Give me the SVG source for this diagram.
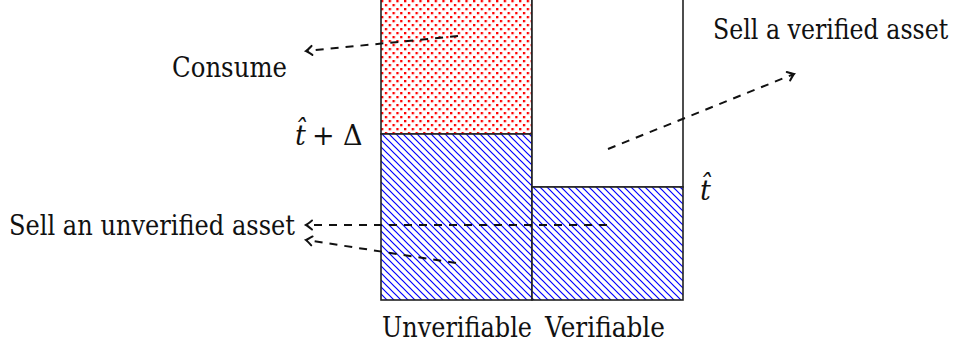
<svg xmlns="http://www.w3.org/2000/svg" width="957" height="352" viewBox="0 0 957 352">
<style>
text{font-family:"DejaVu Serif","Liberation Serif",serif;font-size:27px;fill:#111}
.box{stroke:#222;stroke-width:1.6}
.conn{fill:none;stroke:#111;stroke-width:2;stroke-dasharray:8 7}
</style>
<defs>
<pattern id="dots" patternUnits="userSpaceOnUse" x="381" y="0" width="7.67" height="8">
<rect width="7.67" height="8" fill="#fff"/>
<rect x="0" y="0" width="2.3" height="2.3" fill="#f00"/>
<rect x="3.83" y="4" width="2.3" height="2.3" fill="#f00"/>
</pattern>
<pattern id="hatch" patternUnits="userSpaceOnUse" x="381" y="0" width="7" height="7">
<rect width="7" height="7" fill="#fff"/>
<path d="M0,0 L7,7 M-1,6 L1,8 M6,-1 L8,1" stroke="#00f" stroke-width="1.2"/>
</pattern>
<marker id="arr" markerUnits="userSpaceOnUse" markerWidth="14" markerHeight="14" viewBox="-10 -7 14 14" refX="0" refY="0" orient="auto">
<path d="M-6,-4.5 Q-1.5,-0.8 0,0 Q-1.5,0.8 -6,4.5" fill="none" stroke="#111" stroke-width="2" stroke-linecap="round"/>
</marker>
</defs>
<g id="unverifiable-consume">
<rect class="box" x="381" y="-5" width="151" height="139" fill="url(#dots)"/>
</g>
<g id="unverifiable-sell">
<rect class="box" x="381" y="134" width="151" height="166" fill="url(#hatch)"/>
</g>
<g id="verifiable-sell-verified">
<rect class="box" x="532" y="-5" width="151" height="192" fill="#fff"/>
</g>
<g id="verifiable-sell-unverified">
<rect class="box" x="532" y="187" width="151" height="113" fill="url(#hatch)"/>
</g>
<g id="connectors">
<path class="conn" d="M458,36 L306,51" marker-end="url(#arr)"/>
<path class="conn" d="M608,149 L794,74" marker-end="url(#arr)"/>
<path class="conn" d="M607,225 L306,225" marker-end="url(#arr)"/>
<path class="conn" d="M456,263 L306,240" marker-end="url(#arr)"/>
</g>
<g id="label-consume"><text x="172" y="77" textLength="115" lengthAdjust="spacingAndGlyphs">Consume</text></g>
<g id="label-sell-verified"><text transform="translate(713,39) scale(0.8,1)" x="0" y="0" textLength="294" lengthAdjust="spacingAndGlyphs">Sell a verified asset</text></g>
<g id="label-sell-unverified"><text x="9" y="235" textLength="286" lengthAdjust="spacingAndGlyphs">Sell an unverified asset</text></g>
<g id="label-unverifiable"><text x="382" y="337" textLength="150" lengthAdjust="spacingAndGlyphs">Unverifiable</text></g>
<g id="label-verifiable"><text x="545" y="337" textLength="120" lengthAdjust="spacingAndGlyphs">Verifiable</text></g>
<g id="label-that-delta">
<text x="295" y="145"><tspan font-style="italic">t̂</tspan><tspan x="312" y="145">+</tspan><tspan x="343" y="145">Δ</tspan></text>
</g>
<g id="label-that">
<text x="700" y="200" font-style="italic">t̂</text>
</g>
</svg>
